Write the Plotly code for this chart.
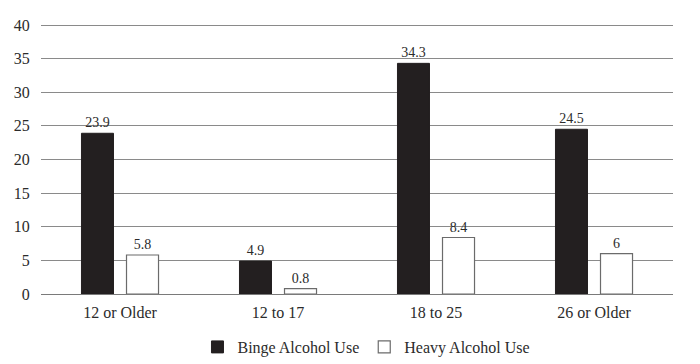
import plotly.graph_objects as go

categories = ["12 or Older", "12 to 17", "18 to 25", "26 or Older"]
binge = [23.9, 4.9, 34.3, 24.5]
heavy = [5.8, 0.8, 8.4, 6]
binge_labels = ["23.9", "4.9", "34.3", "24.5"]
heavy_labels = ["5.8", "0.8", "8.4", "6"]
y_ticks = [0, 5, 10, 15, 20, 25, 30, 35, 40]

FONT = "Liberation Serif"
TXT = "#2b2b2b"

fig = go.Figure()
fig.add_trace(go.Bar(
    x=categories, y=binge, name="Binge Alcohol Use",
    marker=dict(color="#231f20", line=dict(color="#231f20", width=1)),
    text=binge_labels, textposition="outside", cliponaxis=False,
    textfont=dict(family=FONT, size=14, color=TXT),
))
fig.add_trace(go.Bar(
    x=categories, y=heavy, name="Heavy Alcohol Use",
    marker=dict(color="white", line=dict(color="#6b6b6b", width=1.2)),
    text=heavy_labels, textposition="outside", cliponaxis=False,
    textfont=dict(family=FONT, size=14, color=TXT),
))

fig.update_layout(
    width=700, height=364,
    margin=dict(l=41, r=27, t=23, b=70),
    paper_bgcolor="white", plot_bgcolor="white",
    barmode="group", bargap=0.43, bargroupgap=0.289,
    font=dict(family=FONT, size=16, color=TXT),
    showlegend=True,
    legend=dict(orientation="h", x=0.515, xanchor="center",
                yref="container", y=-0.01, yanchor="bottom",
                font=dict(family=FONT, size=16, color=TXT), itemwidth=30,
                traceorder="normal", tracegroupgap=0),
)
fig.update_xaxes(showgrid=False, showline=False, ticks="", tickfont=dict(size=16),
                 ticklabelstandoff=7, automargin=False)
fig.update_yaxes(range=[0, 40.3], tickvals=y_ticks, showgrid=True, gridcolor="#8a8a8a",
                 gridwidth=1.3, zeroline=True, zerolinecolor="#7a7a7a", zerolinewidth=1.3,
                 showline=False, ticks="outside", ticklen=7, tickcolor="white",
                 tickfont=dict(size=16), automargin=False)

fig.write_html("out.html", config={"displayModeBar": False},
               post_script="document.body.style.margin='0px';")
